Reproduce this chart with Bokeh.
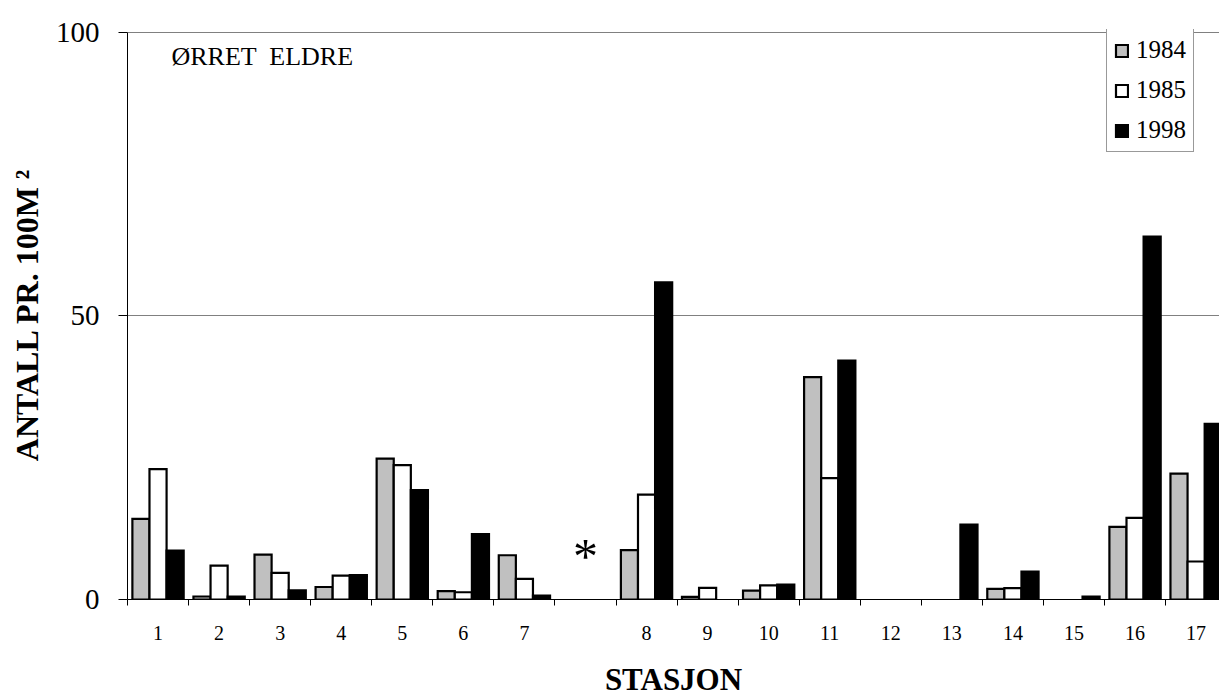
import numpy as np
from bokeh.plotting import figure
from bokeh.models import (Range1d, FixedTicker, ColumnDataSource, Legend,
                          LegendItem, Label)
from bokeh.embed import file_html
from bokeh.resources import INLINE

# Station labels along the x axis; the empty entry is the gap marked with "*"
stations = ["1", "2", "3", "4", "5", "6", "7", "", "8", "9", "10",
            "11", "12", "13", "14", "15", "16", "17"]

# Density (antall pr. 100 m2) per station and year; nan = no bar
y1984 = [14.2, 0.53, 7.9, 2.2, 24.85, 1.46, 7.8, np.nan, 8.7, 0.47, 1.58,
         39.2, np.nan, np.nan, 1.88, np.nan, 12.8, 22.2]
y1985 = [23.0, 5.98, 4.7, 4.2, 23.7, 1.28, 3.64, np.nan, 18.5, 2.06, 2.5,
         21.4, np.nan, np.nan, 1.99, np.nan, 14.4, 6.7]
y1998 = [8.6, 0.53, 1.6, 4.3, 19.3, 11.55, 0.7, np.nan, 55.9, np.nan, 2.64,
         42.1, np.nan, 13.2, 4.9, 0.53, 64.0, 30.95]

years = ["1984", "1985", "1998"]
fills = ["#c0c0c0", "#ffffff", "#000000"]
y_ticks = [0, 50, 100]

FONT = "Liberation Serif"

slots = np.arange(1, len(stations) + 1, dtype=float)
bar_w = 0.28
offsets = [-bar_w, 0.0, bar_w]

p = figure(width=1219, height=699,
           x_range=Range1d(0.5, 18.383), y_range=Range1d(0, 100.5),
           output_backend="svg", toolbar_location=None,
           min_border_left=127, min_border_right=0,
           min_border_top=29, min_border_bottom=98)
p.outline_line_color = None
p.background_fill_color = "white"
p.border_fill_color = "white"

renderers = []
for vals, off, col in zip([y1984, y1985, y1998], offsets, fills):
    src = ColumnDataSource(dict(x=slots + off, top=np.array(vals, dtype=float)))
    r = p.vbar(x="x", top="top", bottom=0, width=bar_w, source=src,
               fill_color=col, line_color="black", line_width=2.2,
               line_join="miter")
    renderers.append(r)

# x axis: labels at slot centres, short ticks on slot boundaries
label_ticks = [int(s) for s, lab in zip(slots, stations) if lab]
p.xaxis.ticker = FixedTicker(ticks=label_ticks,
                             minor_ticks=list(np.arange(0.5, len(stations) + 1, 1.0)))
p.xaxis.major_label_overrides = {int(s): lab for s, lab in zip(slots, stations) if lab}
p.xaxis.major_tick_out = 0
p.xaxis.major_tick_in = 0
p.xaxis.minor_tick_out = 6
p.xaxis.minor_tick_in = 0
p.xaxis.minor_tick_line_color = "black"
p.xaxis.major_label_text_font = FONT
p.xaxis.major_label_text_font_size = "20px"
p.xaxis.major_label_text_color = "black"
p.xaxis.major_label_standoff = 20
p.xaxis.axis_label = "STASJON"
p.xaxis.axis_label_text_font = FONT
p.xaxis.axis_label_text_font_style = "bold"
p.xaxis.axis_label_text_font_size = "31px"
p.xaxis.axis_label_text_color = "black"
p.xaxis.axis_label_standoff = 19
p.xaxis.axis_line_color = "black"

# y axis
p.yaxis.ticker = FixedTicker(ticks=y_ticks)
p.yaxis.bounds = (0, 100)
p.yaxis.major_tick_out = 9
p.yaxis.major_tick_in = 0
p.yaxis.minor_tick_line_color = None
p.yaxis.major_label_text_font = FONT
p.yaxis.major_label_text_font_size = "29px"
p.yaxis.major_label_text_color = "black"
p.yaxis.major_label_standoff = 19
p.yaxis.axis_label = "ANTALL PR. 100M ²"
p.yaxis.axis_label_text_font = FONT
p.yaxis.axis_label_text_font_style = "bold"
p.yaxis.axis_label_text_font_size = "32px"
p.yaxis.axis_label_text_color = "black"
p.yaxis.axis_label_standoff = 8
p.yaxis.axis_line_color = "black"

p.xgrid.grid_line_color = None
p.ygrid.ticker = FixedTicker(ticks=[50, 100])
p.ygrid.grid_line_color = "#808080"
p.ygrid.grid_line_width = 1

# chart heading inside the plot area
p.add_layout(Label(x=44, y=558, x_units="screen", y_units="screen",
                   text="ØRRET \u00a0ELDRE", text_font=FONT, text_font_size="26px",
                   text_baseline="top", text_color="black"))

# marker for the station without data
gap_slot = float(slots[stations.index("")])
p.add_layout(Label(x=gap_slot, y=7.6, text="*", text_font=FONT,
                   text_font_size="50px", text_align="center",
                   text_baseline="middle", text_color="black"))

legend = Legend(items=[LegendItem(label=yr, renderers=[r])
                       for yr, r in zip(years, renderers)],
                location=(979, 447))
legend.border_line_color = "#333333"
legend.border_line_width = 1
legend.background_fill_color = "white"
legend.background_fill_alpha = 1
legend.padding = 7
legend.spacing = 12
legend.margin = 0
legend.glyph_width = 15
legend.glyph_height = 15
legend.label_standoff = 7
legend.label_height = 25
legend.label_text_font = FONT
legend.label_text_font_size = "25px"
legend.label_text_color = "black"
p.add_layout(legend, "center")

open("out.html", "w").write(file_html(p, INLINE))
